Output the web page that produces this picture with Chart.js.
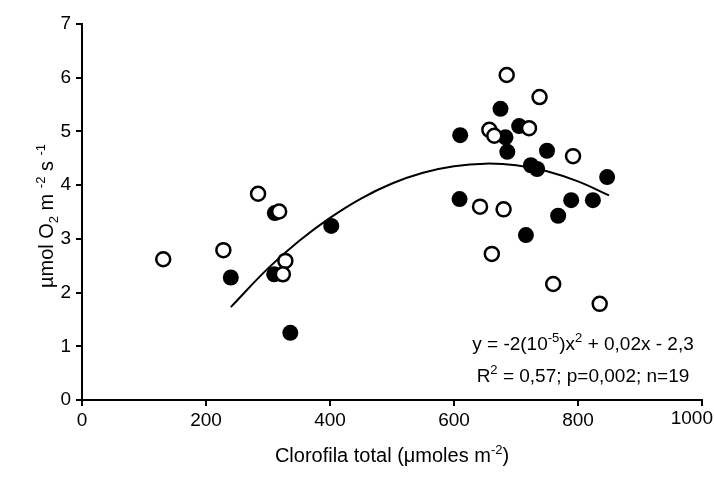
<!DOCTYPE html>
<html>
<head>
<meta charset="utf-8">
<script src="https://cdn.jsdelivr.net/npm/chart.js@4"></script>
<style>
  body { margin: 0; background: #fff; }
  canvas { display: block; }
</style>
</head>
<body>
<canvas id="chart" width="714" height="483"></canvas>
<script>
// open circles
const openX = [131, 228, 284, 318, 328, 324, 685, 738, 657, 665, 721, 792, 642, 680, 661, 760, 835];
const openY = [2.62, 2.79, 3.84, 3.51, 2.59, 2.34, 6.05, 5.64, 5.03, 4.92, 5.06, 4.54, 3.6, 3.55, 2.72, 2.16, 1.79];
// filled circles
const filledX = [240, 310, 311, 336, 402, 675, 610, 705, 683, 686, 750, 724, 734, 847, 609, 789, 824, 768, 716];
const filledY = [2.28, 2.34, 3.48, 1.25, 3.24, 5.42, 4.93, 5.1, 4.89, 4.62, 4.64, 4.37, 4.3, 4.15, 3.74, 3.72, 3.72, 3.43, 3.07];
// fitted curve as drawn
const fitX = [240, 300, 350, 400, 450, 500, 550, 600, 650, 700, 750, 800, 850];
const fitY = [1.73, 2.45, 2.96, 3.39, 3.75, 4.03, 4.23, 4.35, 4.4, 4.37, 4.26, 4.07, 3.81];
const xTicks = [0, 200, 400, 600, 800, 1000];
const yTicks = [0, 1, 2, 3, 4, 5, 6, 7];

const FONT = '"Liberation Sans", Arial, sans-serif';
const SIZE = 19;
const toPts = (xs, ys) => xs.map((x, i) => ({ x: x, y: ys[i] }));

// draw text made of normal / sup / sub runs, centred on x
function drawRuns(ctx, runs, x, y, big) {
  const base = big || SIZE;
  const size = { n: base, sup: 13, sub: 13 };
  const shift = { n: 0, sup: -8, sub: 5 };
  let w = 0;
  runs.forEach((r) => {
    ctx.font = size[r[1]] + "px " + FONT;
    w += ctx.measureText(r[0]).width;
  });
  let cx = x - w / 2;
  ctx.textAlign = "left";
  ctx.textBaseline = "alphabetic";
  runs.forEach((r) => {
    ctx.font = size[r[1]] + "px " + FONT;
    ctx.fillText(r[0], cx, y + shift[r[1]]);
    cx += ctx.measureText(r[0]).width;
  });
}

const textPlugin = {
  id: "texts",
  afterDraw(chart) {
    const ctx = chart.ctx;
    const xs = chart.scales.x;
    ctx.save();
    ctx.fillStyle = "#000";
    // last x tick label pushed inside the canvas edge
    ctx.font = SIZE + "px " + FONT;
    ctx.textAlign = "right";
    ctx.textBaseline = "top";
    ctx.fillText(String(xTicks[xTicks.length - 1]), chart.width - 1, xs.top + 9);

    drawRuns(ctx, [["y = -2(10", "n"], ["-5", "sup"], [")x", "n"], ["2", "sup"], [" + 0,02x - 2,3", "n"]], 583, 350);
    drawRuns(ctx, [["R", "n"], ["2", "sup"], [" = 0,57; p=0,002; n=19", "n"]], 583, 382);
    drawRuns(ctx, [["Clorofila total (\u03bcmoles m", "n"], ["-2", "sup"], [")", "n"]], 392, 462, 20);
    ctx.translate(46, 216);
    ctx.rotate(-Math.PI / 2);
    drawRuns(ctx, [["\u00b5mol O", "n"], ["2", "sub"], [" m ", "n"], ["-2", "sup"], [" s ", "n"], ["-1", "sup"]], 0, 7, 20);
    ctx.restore();
  },
};

new Chart(document.getElementById("chart"), {
  type: "scatter",
  data: {
    datasets: [
      {
        label: "open",
        data: toPts(openX, openY),
        pointRadius: 7,
        pointHoverRadius: 7,
        pointBackgroundColor: "#fff",
        pointBorderColor: "#000",
        pointBorderWidth: 2.5,
        order: 1,
      },
      {
        label: "filled",
        data: toPts(filledX, filledY),
        pointRadius: 8,
        pointHoverRadius: 8,
        pointBackgroundColor: "#000",
        pointBorderColor: "#000",
        pointBorderWidth: 0,
        order: 2,
      },
      {
        label: "fit",
        data: toPts(fitX, fitY),
        showLine: true,
        tension: 0.4,
        borderColor: "#000",
        borderWidth: 2,
        pointRadius: 0,
        fill: false,
        order: 3,
      },
    ],
  },
  options: {
    responsive: false,
    animation: false,
    events: [],
    layout: { padding: { top: 24, right: 12, left: 0, bottom: 0 } },
    plugins: { legend: { display: false }, tooltip: { enabled: false } },
    scales: {
      x: {
        type: "linear",
        min: 0,
        max: 1000,
        afterBuildTicks: (s) => { s.ticks = xTicks.map((v) => ({ value: v })); },
        afterFit: (s) => { s.height = 83; s.paddingLeft = 0; s.paddingRight = 0; },
        grid: { drawOnChartArea: false, color: "#000", lineWidth: 2, tickLength: 6 },
        border: { color: "#000", width: 2 },
        ticks: {
          color: "#000",
          font: { family: FONT, size: SIZE },
          padding: 3,
          callback: (v) => (v === xTicks[xTicks.length - 1] ? "" : String(v)),
        },
      },
      y: {
        type: "linear",
        min: 0,
        max: 7,
        afterBuildTicks: (s) => { s.ticks = yTicks.map((v) => ({ value: v })); },
        afterFit: (s) => { s.width = 82; s.paddingTop = 0; s.paddingBottom = 0; },
        grid: { drawOnChartArea: false, color: "#000", lineWidth: 2, tickLength: 6 },
        border: { color: "#000", width: 2 },
        ticks: { color: "#000", font: { family: FONT, size: SIZE }, padding: 5, callback: (v) => String(v) },
      },
    },
  },
  plugins: [textPlugin],
});
</script>
</body>
</html>
